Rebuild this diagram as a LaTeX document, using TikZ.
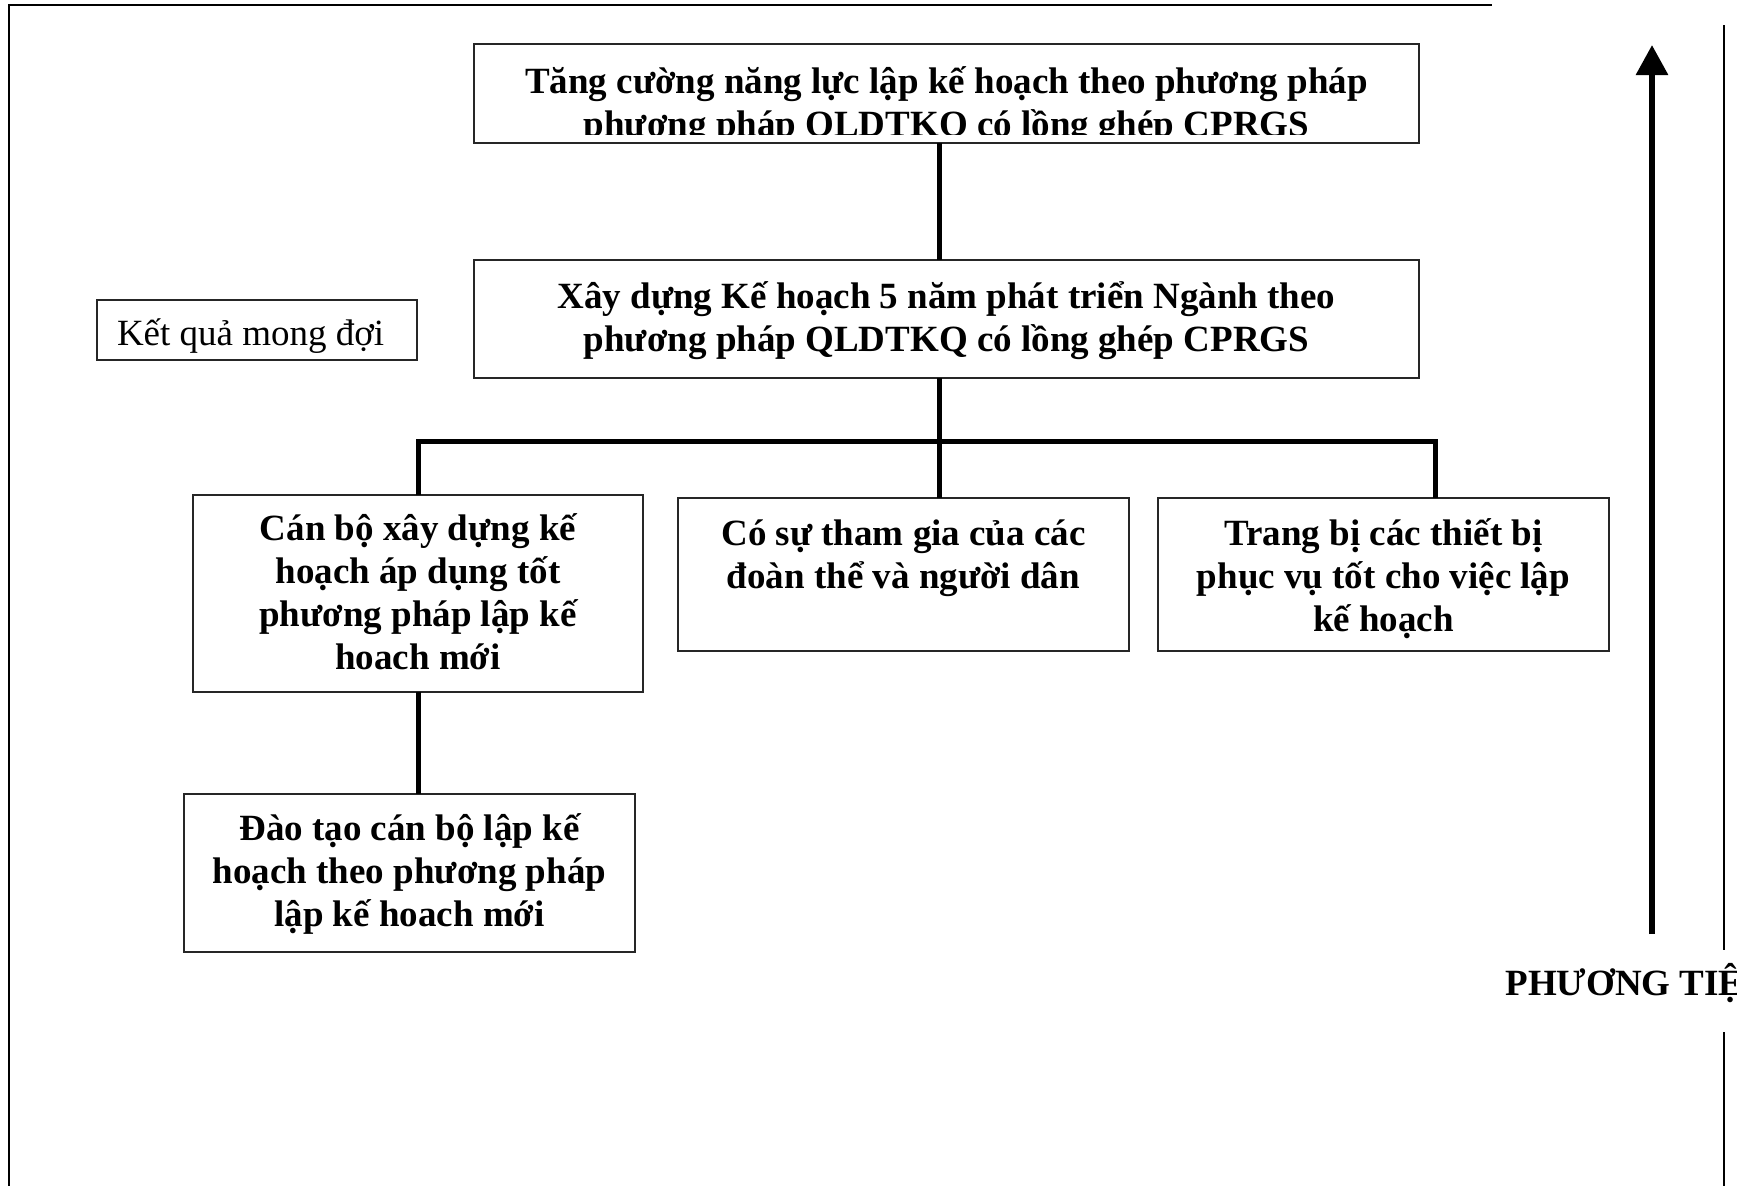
\documentclass[tikz,border=0pt]{standalone}
\usepackage{fontspec}
\setmainfont{Liberation Serif}
\usetikzlibrary{arrows.meta}
\newcommand{\bxt}[4]{\parbox[c][#2][t]{#1}{\centering\rule{0pt}{#3}#4}}
\tikzset{
  boxnode/.style={draw=black!85, line width=0.8pt, inner sep=0pt, outer sep=0pt, anchor=north west,
    font=\bfseries\fontsize{18.5}{21.6}\selectfont},
  plainbox/.style={boxnode, font=\fontsize{18.5}{21.6}\selectfont},
  boxline/.style={draw=black!85, line width=0.8pt},
  link/.style={line width=2.5pt, line join=miter},
  frameline/.style={line width=1.2pt},
  sideline/.style={line width=0.9pt},
  bigarrow/.style={line width=3pt, -{Triangle[width=15.5pt,length=15pt]}},
  sidelabel/.style={font=\bfseries\fontsize{18.5}{21.6}\selectfont, anchor=base west, inner sep=0pt}
}
\begin{document}
\begin{tikzpicture}[x=0.5pt,y=-0.5pt]
\useasboundingbox (0,0) rectangle (1737,1185);
\clip (0,0) rectangle (1737,1185);
% outer frame
\coordinate (fBL) at (9,1190);
\coordinate (fTL) at (9,5);
\coordinate (fTR) at (1492,5);
\draw[frameline] (fBL) -- (fTL) -- (fTR);
\coordinate (rA) at (1724,25);
\coordinate (rB) at (1724,950);
\coordinate (rC) at (1724,1032);
\coordinate (rD) at (1724,1190);
\draw[sideline] (rA) -- (rB) (rC) -- (rD);

% top box (text clipped at the bottom)
\begin{scope}
  \clip (474,44) rectangle (1419,134);
  \node[boxnode, draw=none] (top) at (474,44)
    {\bxt{472.5pt}{49.5pt}{24.5pt}{Tăng cường năng lực lập kế hoạch theo phương pháp\\phương pháp QLDTKQ có lồng ghép CPRGS}};
\end{scope}
\draw[boxline] (top.north west) rectangle (top.south east);

\node[boxnode] (mid) at (474,260)
  {\bxt{472.5pt}{59pt}{24pt}{Xây dựng Kế hoạch 5 năm phát triển Ngành theo\\phương pháp QLDTKQ có lồng ghép CPRGS}};

\node[plainbox] (kq) at (97,300)
  {\parbox[c][30pt][t]{160pt}{\rule{0pt}{22.5pt}\hspace*{10pt}Kết quả mong đợi}};

\node[boxnode] (b1) at (193,495)
  {\bxt{225pt}{98.5pt}{22.5pt}{Cán bộ xây dựng kế\\hoạch áp dụng tốt\\phương pháp lập kế\\hoach mới}};
\node[boxnode] (b2) at (678,498)
  {\bxt{225.5pt}{76.5pt}{23.5pt}{Có sự tham gia của các\\đoàn thể và người dân}};
\node[boxnode] (b3) at (1158,498)
  {\bxt{225.5pt}{76.5pt}{23.5pt}{Trang bị các thiết bị\\phục vụ tốt cho việc lập\\kế hoạch}};
\node[boxnode] (b4) at (184,794)
  {\bxt{225.5pt}{79pt}{23.2pt}{Đào tạo cán bộ lập kế\\hoạch theo phương pháp\\lập kế hoach mới}};

% connectors
\coordinate (trunk) at (939,441);
\coordinate (busR) at (1435,441);
\draw[link] (trunk |- top.south) -- (trunk |- mid.north);
\draw[link] (trunk |- mid.south) -- (trunk |- b2.north);
\draw[link] (b1.north) -- (b1.north |- trunk) -- (busR) -- (busR |- b3.north);
\draw[link] (b1.south) -- (b1.south |- b4.north);

% side arrow and label
\coordinate (arrB) at (1652,934);
\coordinate (arrT) at (1652,45);
\draw[bigarrow] (arrB) -- (arrT);
\node[sidelabel] (pt) at (1505,995) {PHƯƠNG TIỆN};
\end{tikzpicture}
\end{document}
